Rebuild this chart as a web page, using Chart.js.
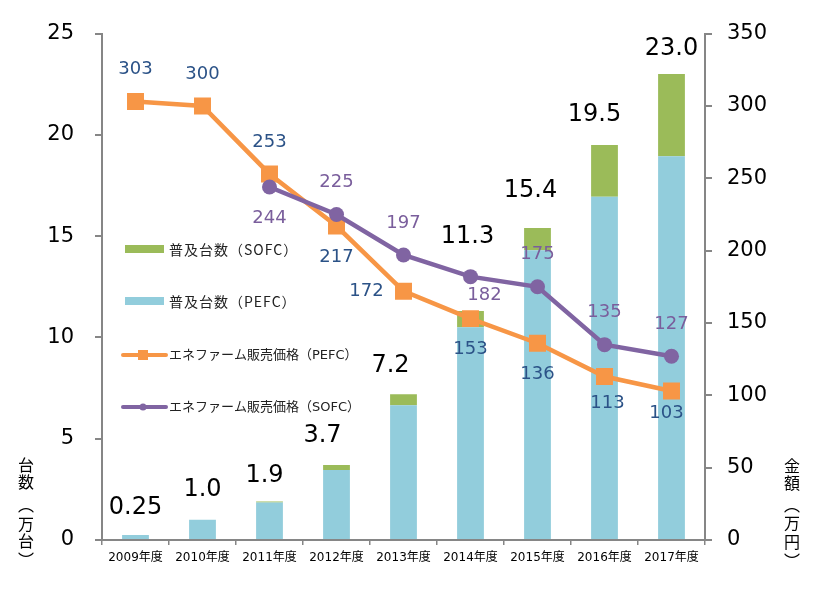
<!DOCTYPE html>
<html><head><meta charset="utf-8">
<script src="https://cdn.jsdelivr.net/npm/chart.js@4"></script>
<style>html,body{margin:0;padding:0;background:#fff}#wrap{width:836px;height:601px;position:relative}</style>
</head><body><div id="wrap"><canvas id="c" width="836" height="601"></canvas></div>
<script>
const categories = ['2009年度','2010年度','2011年度','2012年度','2013年度','2014年度','2015年度','2016年度','2017年度'];
const pefcUnits = [0.25, 1.0, 1.85, 3.45, 6.65, 10.5, 14.3, 16.95, 18.95];
const sofcUnits = [0, 0, 0.05, 0.25, 0.55, 0.8, 1.1, 2.55, 4.05];
const totalLabels = ['0.25','1.0','1.9','3.7','7.2','11.3','15.4','19.5','23.0'];
const pefcPrice = [303, 300, 253, 217, 172, 153, 136, 113, 103];
const sofcPrice = [null, null, 244, 225, 197, 182, 175, 135, 127];
const leftTitle = ['台','数','︵','万','台','︶'];
const rightTitle = ['金','額','︵','万','円','︶'];

// label placement (style, not data)
const totalLift = [27, 30, 26, 29, 28, 74, 37, 30, 25];
const totalShift = [0, 0, -5, -14, -13, -3, -7, -10, 0];
const pefcLabelPos = ['above','above','above','below','left','below','below','below2','below3'];
const sofcLabelPos = [null,null,'below','above','above','rightBelow','above','above','above'];

const FONT = "'DejaVu Sans','Noto Sans CJK JP',sans-serif";
const CJK = "'Noto Sans CJK JP',sans-serif";
Chart.defaults.font.family = FONT;
Chart.defaults.color = '#000';
const AX = '#868686';

const offsets = {
  above:[0,-32], below:[0,31], below2:[3,27], below3:[-5,22], left:[-37,0], rightBelow:[14,19]
};

const labelsPlugin = {
  id:'labelsPlugin',
  afterDatasetsDraw(chart){
    const ctx = chart.ctx;
    ctx.save();
    ctx.textAlign='center'; ctx.textBaseline='middle';
    const ys = chart.scales.y, xs = chart.scales.x;
    ctx.font = '24px ' + FONT; ctx.fillStyle = '#000';
    totalLabels.forEach((t,i)=>{
      const y = ys.getPixelForValue(pefcUnits[i]+sofcUnits[i]);
      ctx.fillText(t, xs.getPixelForValue(i)+totalShift[i], y-totalLift[i]);
    });
    ctx.font = '18px ' + FONT;
    const drawSet = (di, vals, pos, color)=>{
      const meta = chart.getDatasetMeta(di);
      ctx.fillStyle = color;
      vals.forEach((v,i)=>{
        if(v===null||!pos[i]) return;
        const p = meta.data[i]; const o = offsets[pos[i]];
        ctx.fillText(String(v), p.x+o[0], p.y+o[1]);
      });
    };
    drawSet(0, pefcPrice, pefcLabelPos, '#2B5287');
    drawSet(1, sofcPrice, sofcLabelPos, '#7A5E9C');
    ctx.restore();
  },
  afterDraw(chart){
    const ctx = chart.ctx;
    ctx.save();
    ctx.textAlign='left'; ctx.textBaseline='middle';
    const items = [
      {t:'普及台数（SOFC）', y:249, kind:'bar', c:'#9BBB59', f:'14px '+CJK, ls:'1px'},
      {t:'普及台数（PEFC）', y:301, kind:'bar', c:'#92CDDC', f:'14px '+CJK, ls:'1px'},
      {t:'エネファーム販売価格（PEFC）', y:355, kind:'rect', c:'#F79646', f:'13px '+FONT, ls:'0px'},
      {t:'エネファーム販売価格（SOFC）', y:407, kind:'circle', c:'#8064A2', f:'13px '+FONT, ls:'0px'}
    ];
    items.forEach(it=>{
      ctx.fillStyle = it.c; ctx.strokeStyle = it.c;
      if(it.kind==='bar'){ ctx.fillRect(125, it.y-4, 39, 8); }
      else {
        ctx.lineWidth=4; ctx.lineCap='round';
        ctx.beginPath(); ctx.moveTo(123,it.y); ctx.lineTo(166,it.y); ctx.stroke();
        if(it.kind==='rect') ctx.fillRect(138,it.y-5,10,10);
        else { ctx.beginPath(); ctx.arc(143,it.y,3.5,0,Math.PI*2); ctx.fill(); }
      }
      ctx.fillStyle = '#222';
      ctx.font = it.f;
      if ('letterSpacing' in ctx) ctx.letterSpacing = it.ls;
      ctx.fillText(it.t, 169, it.y+1);
    });
    if ('letterSpacing' in ctx) ctx.letterSpacing = '0px';
    ctx.textAlign='center'; ctx.font = '16px ' + CJK; ctx.fillStyle='#000';
    const ly = [465,482,505,524,541,560];
    leftTitle.forEach((ch,i)=>ctx.fillText(ch, 26, ly[i]));
    const ry = [466,483,505,523,542,561];
    rightTitle.forEach((ch,i)=>ctx.fillText(ch, 792, ry[i]));
    ctx.restore();
  }
};

new Chart(document.getElementById('c').getContext('2d'), {
  type:'bar',
  data:{
    labels: categories,
    datasets:[
      {type:'line', label:'エネファーム販売価格（PEFC）', data:pefcPrice, yAxisID:'y2', borderColor:'#F79646', backgroundColor:'#F79646', borderWidth:4.5, pointStyle:'rect', pointRadius:12, pointHoverRadius:12, pointBorderWidth:0, tension:0, order:1},
      {type:'line', label:'エネファーム販売価格（SOFC）', data:sofcPrice, yAxisID:'y2', borderColor:'#8064A2', backgroundColor:'#8064A2', borderWidth:4.5, pointStyle:'circle', pointRadius:7.5, pointHoverRadius:7.5, pointBorderWidth:0, tension:0, order:0},
      {type:'bar', label:'普及台数（PEFC）', data:pefcUnits, backgroundColor:'#92CDDC', stack:'u', yAxisID:'y', order:2, barPercentage:0.4, categoryPercentage:1},
      {type:'bar', label:'普及台数（SOFC）', data:sofcUnits, backgroundColor:'#9BBB59', stack:'u', yAxisID:'y', order:2, barPercentage:0.4, categoryPercentage:1}
    ]
  },
  options:{
    responsive:false, animation:false, devicePixelRatio:1,
    layout:{padding:{top:31,left:0,right:0,bottom:0}},
    plugins:{legend:{display:false}, tooltip:{enabled:false}},
    scales:{
      x:{stacked:true, offset:true,
        grid:{display:true, drawOnChartArea:false, drawTicks:true, tickLength:5, color:AX, lineWidth:1.5, offset:true},
        border:{display:true, color:AX, width:2},
        ticks:{font:{size:12}, color:'#000', padding:6, maxRotation:0, autoSkip:false},
        afterFit(s){ s.height = 61; }
      },
      y:{stacked:true, position:'left', min:0, max:25,
        ticks:{stepSize:5, font:{size:21}, color:'#000', padding:21},
        grid:{drawOnChartArea:false, drawTicks:true, tickLength:7, color:AX, lineWidth:2},
        border:{display:true, color:AX, width:2},
        afterFit(s){ s.width = 102; }
      },
      y2:{position:'right', min:0, max:350,
        ticks:{stepSize:50, font:{size:21}, color:'#000', padding:15},
        grid:{drawOnChartArea:false, drawTicks:true, tickLength:7, color:AX, lineWidth:2},
        border:{display:true, color:AX, width:2},
        afterFit(s){ s.width = 131; }
      }
    }
  },
  plugins:[labelsPlugin]
});
</script></body></html>
